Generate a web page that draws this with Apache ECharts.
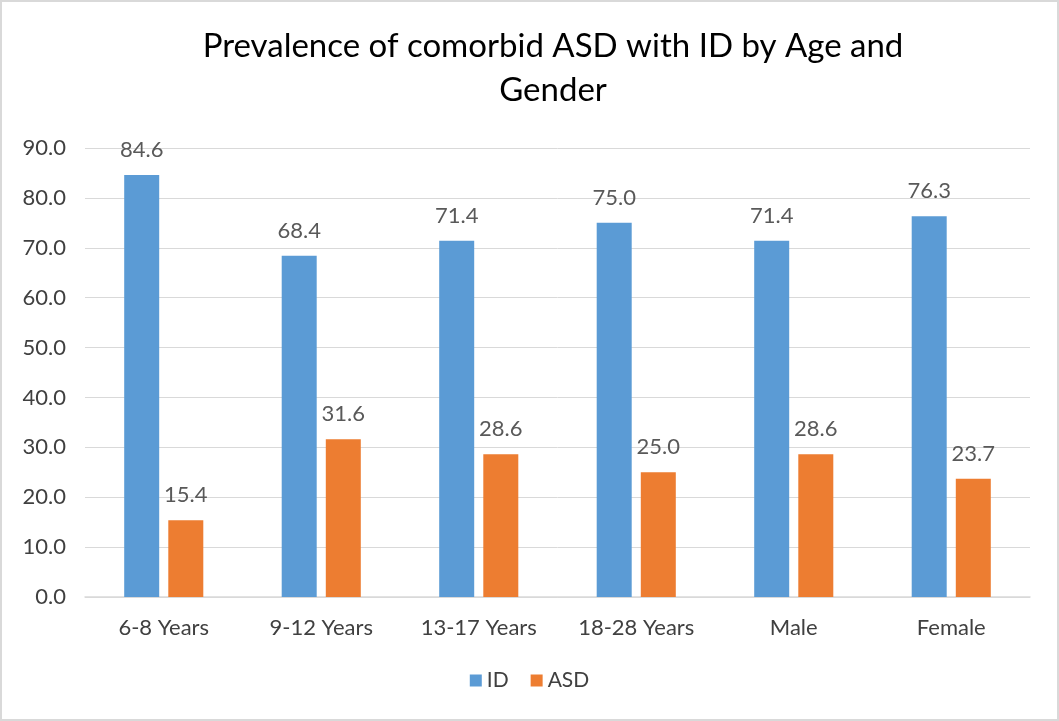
<!DOCTYPE html>
<html>
<head>
<meta charset="utf-8">
<script src="https://cdn.jsdelivr.net/npm/echarts@6/dist/echarts.min.js"></script>
<style>
  html, body { margin: 0; padding: 0; background: #fff; }
  #chart { width: 1059px; height: 721px; box-sizing: border-box; border: 2px solid #d9d9d9; }
</style>
</head>
<body>
<div id="chart"></div>
<script>
// chart data
const categories = ['6-8 Years', '9-12 Years', '13-17 Years', '18-28 Years', 'Male', 'Female'];
const idValues = [84.6, 68.4, 71.4, 75.0, 71.4, 76.3];
const asdValues = [15.4, 31.6, 28.6, 25.0, 28.6, 23.7];

const font = 'Lato, "Open Sans", sans-serif';
const myChart = echarts.init(document.getElementById('chart'));

const labelStyle = {
    show: true,
    position: 'top',
    distance: 14,
    color: '#595959',
    fontSize: 22,
    fontFamily: font,
    formatter: p => p.value.toFixed(1)
};

myChart.setOption({
    animation: false,
    title: {
        text: 'Prevalence of comorbid ASD with ID by Age and\nGender',
        left: 546,
        textAlign: 'center',
        top: 17,
        textStyle: { fontSize: 33, fontWeight: 'normal', color: '#000', fontFamily: font, lineHeight: 44 }
    },
    legend: {
        bottom: 23,
        left: 'center',
        itemWidth: 12,
        itemHeight: 12,
        itemGap: 22,
        icon: 'rect',
        textStyle: { fontSize: 21, color: '#404040', fontFamily: font }
    },
    grid: { left: 83, right: 27, top: 146, bottom: 122, containLabel: false },
    xAxis: {
        type: 'category',
        data: categories,
        axisLine: { lineStyle: { color: '#d9d9d9', width: 1.5 } },
        axisTick: { show: false },
        axisLabel: { fontSize: 22, color: '#404040', fontFamily: font, margin: 20 }
    },
    yAxis: {
        type: 'value',
        min: 0,
        max: 90,
        interval: 10,
        axisLine: { show: false },
        axisTick: { show: false },
        splitLine: { lineStyle: { color: '#d9d9d9', width: 1 } },
        axisLabel: { fontSize: 22, color: '#404040', fontFamily: font, margin: 19, formatter: v => v.toFixed(1) }
    },
    series: [
        {
            name: 'ID',
            type: 'bar',
            data: idValues,
            barWidth: 35,
            barGap: '26%',
            itemStyle: { color: '#5b9bd5' },
            label: labelStyle
        },
        {
            name: 'ASD',
            type: 'bar',
            data: asdValues,
            barWidth: 35,
            itemStyle: { color: '#ed7d31' },
            label: labelStyle
        }
    ]
});

window.addEventListener('resize', () => myChart.resize());
</script>
</body>
</html>
